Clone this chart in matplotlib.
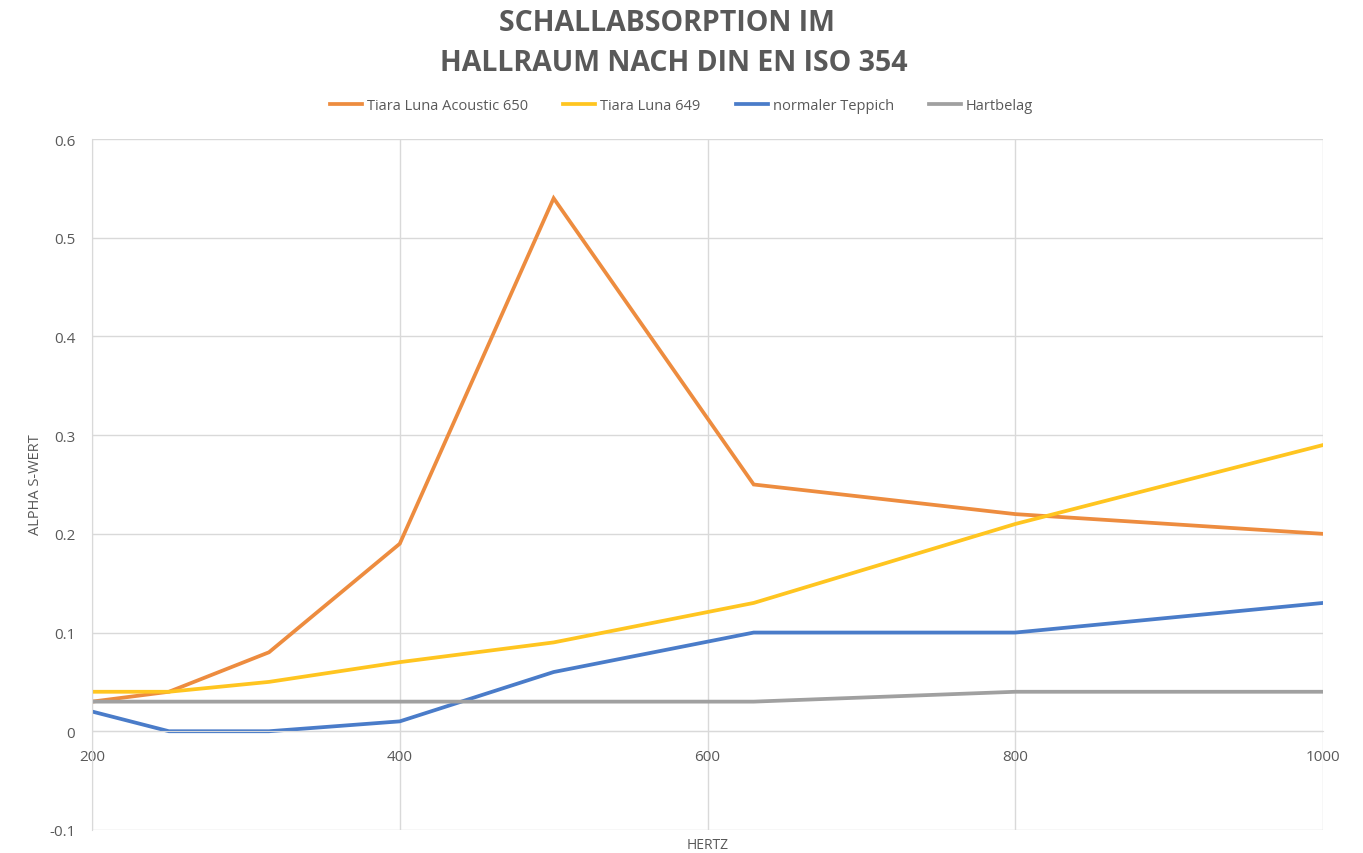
import matplotlib.pyplot as plt
from matplotlib.ticker import MultipleLocator, FuncFormatter

# frequencies in Hz
freq = [200, 250, 315, 400, 500, 630, 800, 1000]

acoustic_650 = [0.03, 0.04, 0.08, 0.19, 0.54, 0.25, 0.22, 0.20]
luna_649 = [0.04, 0.04, 0.05, 0.07, 0.09, 0.13, 0.21, 0.29]
teppich = [0.02, 0.00, 0.00, 0.01, 0.06, 0.10, 0.10, 0.13]
hartbelag = [0.03, 0.03, 0.03, 0.03, 0.03, 0.03, 0.04, 0.04]

names = ['Tiara Luna Acoustic 650', 'Tiara Luna 649', 'normaler Teppich', 'Hartbelag']
colors = ['#ED8C3F', '#FFC520', '#4A7CC9', '#A0A0A0']

plt.rcParams['font.family'] = ['Open Sans', 'DejaVu Sans']
txt = '#595959'

fig = plt.figure(figsize=(13.63, 8.54), dpi=100)
ax = fig.add_axes([0.0675, 0.027, 0.9032, 0.809])

for ys, name, c in zip([acoustic_650, luna_649, teppich, hartbelag], names, colors):
    ax.plot(freq, ys, color=c, lw=2.7, label=name, solid_joinstyle='miter')

ax.set_xlim(200, 1000)
ax.set_ylim(-0.1, 0.6)
ax.xaxis.set_major_locator(MultipleLocator(200))
ax.yaxis.set_major_locator(MultipleLocator(0.1))
ax.yaxis.set_major_formatter(FuncFormatter(lambda v, p: '0' if abs(v) < 1e-9 else f'{v:.1f}'))
ax.grid(True, color='#D9D9D9', lw=1)
ax.set_axisbelow(True)

for s in ['top', 'right']:
    ax.spines[s].set_visible(False)
ax.spines['left'].set_color('#D9D9D9')
ax.spines['bottom'].set_position(('data', 0))
ax.spines['bottom'].set_color('#D9D9D9')
ax.tick_params(length=0, colors=txt, labelsize=11)
ax.tick_params(axis='x', pad=13)
ax.tick_params(axis='y', pad=12)

ax.text(0.5, -0.0205, 'HERTZ', transform=ax.transAxes, ha='center', va='center',
        fontsize=10, color=txt)
fig.text(0.026, 0.432, 'ALPHA S-WERT', rotation=90, ha='center', va='center',
         fontsize=10.5, color=txt)

fig.text(0.489, 0.972, 'SCHALLABSORPTION IM', ha='center', va='center',
         fontsize=20.5, fontweight='bold', color=txt)
fig.text(0.494, 0.926, 'HALLRAUM NACH DIN EN ISO 354', ha='center', va='center',
         fontsize=20.5, fontweight='bold', color=txt)

fig.legend(loc='center', bbox_to_anchor=(0.5, 0.875), ncol=4, frameon=False,
           fontsize=10.5, labelcolor=txt, handlelength=2.2, handletextpad=0.35,
           columnspacing=2.4)

fig.savefig('out.png', dpi=100)
